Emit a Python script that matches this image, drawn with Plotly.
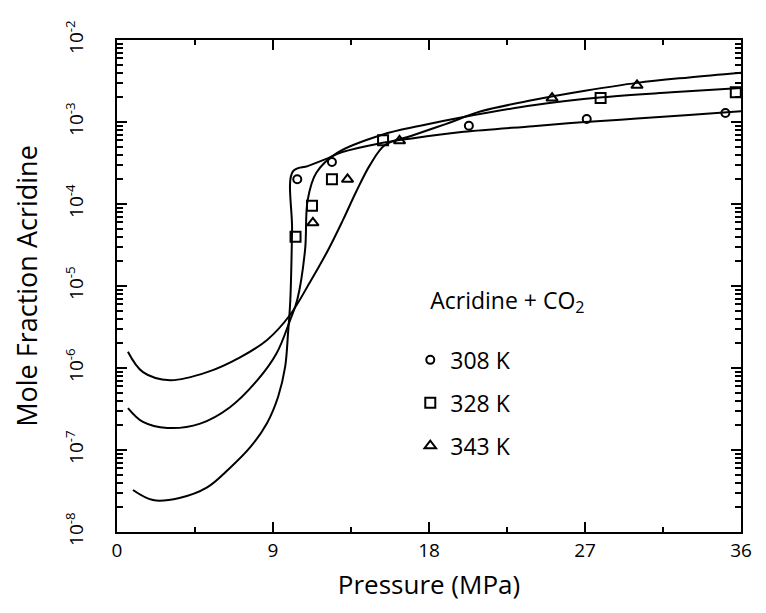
import plotly.graph_objects as go

# ---- data ----
# fitted curves (pressure MPa, mole fraction)
c308_p = [0.92, 2.08, 3.6, 5.2, 6.5, 7.7, 8.66, 9.3, 9.7, 9.87, 10.0, 10.1, 10.15, 11.0, 12.0, 13.0, 15.0, 17.0, 20.0, 24.0, 27.0, 30.0, 33.0, 36.0]
c308_y = [3.25e-8, 2.45e-8, 2.6e-8, 3.5e-8, 6.0e-8, 1.09e-7, 2.14e-7, 4.5e-7, 1.03e-6, 2.7e-6, 6.8e-6, 4.8e-5, 2.5e-4, 2.9e-4, 3.5e-4, 4.3e-4, 5.4e-4, 6.3e-4, 7.6e-4, 8.9e-4, 1.0e-3, 1.1e-3, 1.22e-3, 1.35e-3]

c328_p = [0.63, 1.5, 2.9, 4.8, 6.5, 8.1, 9.2, 10.0, 10.4, 10.85, 11.0, 11.5, 12.7, 15.3, 17.5, 20.0, 24.0, 28.0, 32.0, 36.0]
c328_y = [3.25e-7, 2.2e-7, 1.86e-7, 2.1e-7, 3.3e-7, 7.1e-7, 1.5e-6, 3.9e-6, 6.8e-6, 2.75e-5, 1.12e-4, 2.4e-4, 4.2e-4, 7.0e-4, 9.0e-4, 1.15e-3, 1.6e-3, 2.0e-3, 2.3e-3, 2.6e-3]

c343_p = [0.63, 1.5, 3.06, 5.2, 7.1, 8.66, 9.98, 11.14, 12.18, 13.04, 13.79, 14.6, 15.46, 17.0, 19.0, 21.0, 24.0, 27.0, 30.0, 33.0, 36.0]
c343_y = [1.58e-6, 8.9e-7, 7.1e-7, 8.9e-7, 1.35e-6, 2.2e-6, 4.43e-6, 1.12e-5, 2.75e-5, 6.4e-5, 1.4e-4, 3.0e-4, 5.25e-4, 6.8e-4, 9.5e-4, 1.35e-3, 1.85e-3, 2.4e-3, 3.0e-3, 3.5e-3, 4.0e-3]

# experimental points
p308 = [10.4, 12.4, 20.3, 27.1, 35.1]
y308 = [2.0e-4, 3.25e-4, 9.0e-4, 1.09e-3, 1.29e-3]
p328 = [10.3, 11.25, 12.4, 15.35, 27.9, 35.7]
y328 = [4.0e-5, 9.5e-5, 2.0e-4, 6.0e-4, 1.96e-3, 2.3e-3]
p343 = [11.3, 13.3, 16.3, 25.1, 30.0]
y343 = [5.9e-5, 2.0e-4, 5.9e-4, 1.96e-3, 2.8e-3]

x_ticks = [0, 9, 18, 27, 36]
y_ticks = [1e-8, 1e-7, 1e-6, 1e-5, 1e-4, 1e-3, 1e-2]
y_ticktext = ["10<sup>-8</sup>", "10<sup>-7</sup>", "10<sup>-6</sup>", "10<sup>-5</sup>",
              "10<sup>-4</sup>", "10<sup>-3</sup>", "10<sup>-2</sup>"]

FONT = "Open Sans"
fig = go.Figure()

for p, y in [(c308_p, c308_y), (c328_p, c328_y), (c343_p, c343_y)]:
    fig.add_trace(go.Scatter(x=p, y=y, mode="lines", showlegend=False,
                             line=dict(color="black", width=2, shape="spline", smoothing=1.0),
                             hoverinfo="skip"))

series = [("308 K", p308, y308, "circle-open", 8),
          ("328 K", p328, y328, "square-open", 10),
          ("343 K", p343, y343, "triangle-up-open", 10)]
for i, (name, p, y, sym, sz) in enumerate(series):
    fig.add_trace(go.Scatter(x=p, y=y, mode="markers", name=name, legendgroup=f"g{i}",
                             marker=dict(symbol=sym, size=sz, color="black",
                                         line=dict(color="black", width=2))))

fig.update_layout(
    width=766, height=613,
    margin=dict(l=117, r=25, t=40, b=81),
    paper_bgcolor="white", plot_bgcolor="white",
    font=dict(family=FONT, color="black", size=18),
    legend=dict(x=0.47, y=0.515, xanchor="left", yanchor="top",
                title=dict(text="\u00a0\u00a0\u00a0Acridine + CO<sub>2</sub><br> ", font=dict(size=23)),
                font=dict(size=23), tracegroupgap=10, bgcolor="rgba(0,0,0,0)"),
    xaxis=dict(range=[0, 36], tickvals=x_ticks, ticks="inside", ticklen=10, tickwidth=1.5,
               tickcolor="black", showline=True, linecolor="black", linewidth=2,
               mirror="ticks", showgrid=False, zeroline=False, automargin=False,
               minor=dict(dtick=4.5, ticks="inside", ticklen=5, tickcolor="black", showgrid=False),
               title=dict(text="Pressure (MPa)", font=dict(size=26), standoff=14),
               tickfont=dict(size=19)),
    yaxis=dict(type="log", range=[-8, -2], tickvals=y_ticks, ticktext=y_ticktext,
               ticks="inside", ticklen=10, tickwidth=1.5, tickcolor="black",
               showline=True, linecolor="black", linewidth=2, mirror="ticks",
               showgrid=False, zeroline=False, tickangle=-90, automargin=False,
               ticklabelstandoff=24,
               minor=dict(dtick="D1", ticks="inside", ticklen=6, tickcolor="black", showgrid=False),
               title=dict(text="Mole Fraction Acridine", font=dict(size=27), standoff=16),
               tickfont=dict(size=19)),
)

fig.write_html("out.html", config={"displayModeBar": False},
               post_script="document.body.style.margin='0px';")
